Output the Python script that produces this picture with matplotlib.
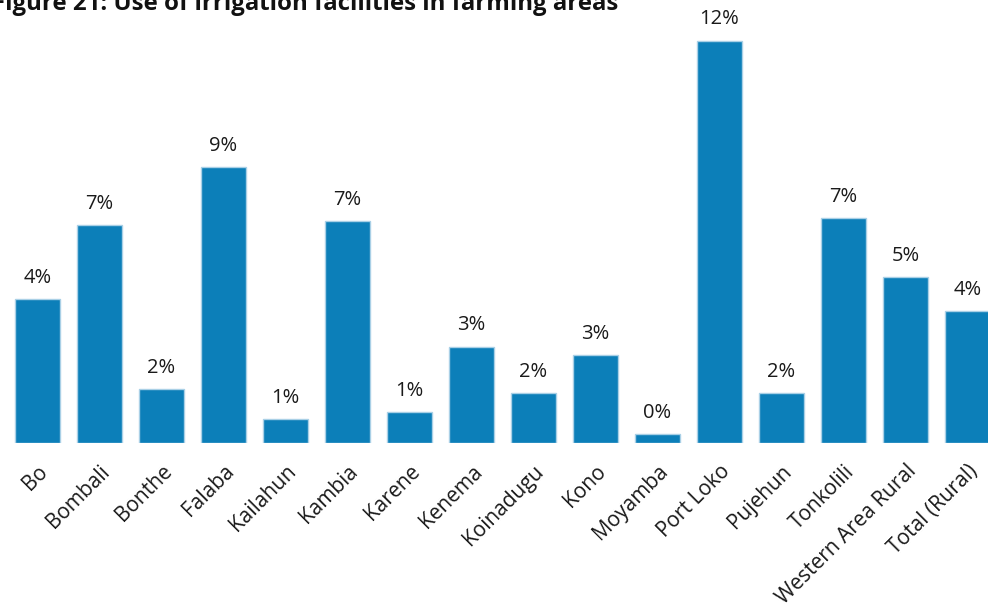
import matplotlib.pyplot as plt
import numpy as np

# share of farming households using irrigation, % (labels shown rounded)
districts = [
    "Bo", "Bombali", "Bonthe", "Falaba", "Kailahun", "Kambia", "Karene",
    "Kenema", "Koinadugu", "Kono", "Moyamba", "Port Loko", "Pujehun",
    "Tonkolili", "Western Area Rural", "Total (Rural)",
]
irrigation_pct = [
    4.44, 6.73, 1.67, 8.54, 0.74, 6.85, 0.97,
    2.98, 1.54, 2.72, 0.27, 12.44, 1.54,
    6.95, 5.12, 4.08,
]

TITLE = "Figure 21: Use of irrigation facilities in farming areas"
BAR_COLOR = "#0c7fb9"
EDGE_COLOR = "#a9d0e6"
FONT = ["Open Sans", "DejaVu Sans"]

W, H = 988, 605


def main():
    plt.rcParams["font.family"] = FONT
    fig = plt.figure(figsize=(W / 100, H / 100), dpi=100)

    # baseline sits 443 px down; 32.35 px per percentage point
    base_px = 443
    px_per_pct = 32.35
    ax = fig.add_axes((0, (H - base_px) / H, 1, base_px / H))

    x = np.arange(len(districts))
    ax.bar(x, irrigation_pct, width=0.74, color=BAR_COLOR,
           edgecolor=EDGE_COLOR, linewidth=1.0)

    for xi, v in zip(x, irrigation_pct):
        ax.annotate(f"{v:.0f}%", (xi, v), xytext=(0, 8),
                    textcoords="offset points", ha="center", va="bottom",
                    fontsize=14.5, color="#1a1a1a", annotation_clip=False)

    step = 62.0
    first = 37.5
    ax.set_xlim(-first / step, (W - first) / step)
    ax.set_ylim(0, base_px / px_per_pct)

    ax.set_xticks(x)
    ax.set_xticklabels(districts, rotation=45, ha="right", va="top",
                       rotation_mode="anchor", fontsize=15, color="#1a1a1a")
    ax.tick_params(axis="x", length=0, pad=13)
    ax.set_yticks([])
    for s in ax.spines.values():
        s.set_visible(False)

    # title runs off the top-left corner; its right end lands at x=618 px
    title = fig.text(618 / W, 1 - 10 / H, TITLE, ha="right", va="baseline",
                     fontsize=15, fontweight="bold", color="#111111")
    renderer = fig.canvas.get_renderer()
    width = title.get_window_extent(renderer).width
    title.set_fontsize(15 * 626 / width)

    fig.savefig("out.png", dpi=100)


if __name__ == "__main__":
    main()
